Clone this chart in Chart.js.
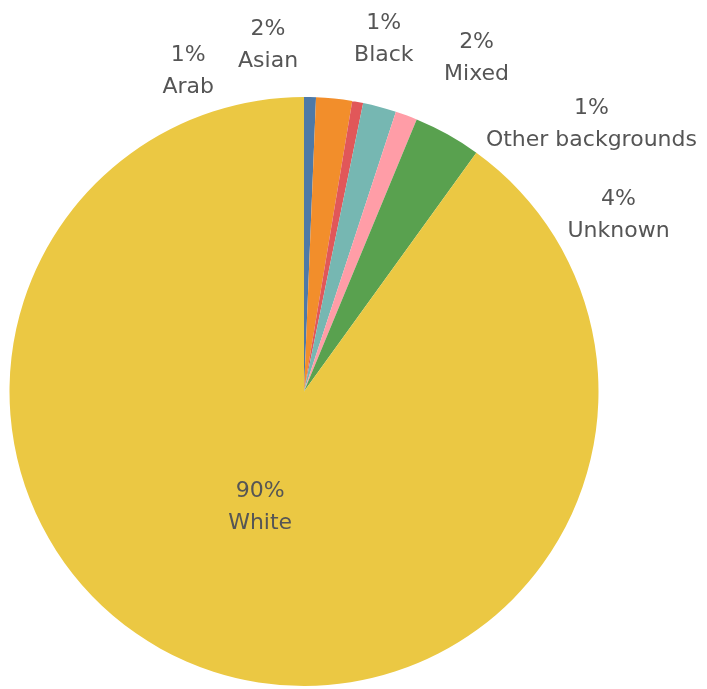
<!DOCTYPE html>
<html>
<head>
<meta charset="utf-8">
<script src="https://cdn.jsdelivr.net/npm/chart.js@4/dist/chart.umd.min.js"></script>
<style>
  html, body { margin: 0; padding: 0; background: #ffffff; }
  #wrap { width: 707px; height: 689px; position: relative; }
</style>
</head>
<body>
<div id="wrap"><canvas id="c" width="707" height="689"></canvas></div>
<script>
// Data
const categories = ["Arab", "Asian", "Black", "Mixed", "Other backgrounds", "Unknown", "White"];
const shares = [0.65, 1.97, 0.6, 1.83, 1.2, 3.7, 90.05];
const percentLabels = ["1%", "2%", "1%", "2%", "1%", "4%", "90%"];
const colors = ["#4e79a7", "#f28e2b", "#e15759", "#76b7b2", "#ff9da7", "#59a14f", "#ebc843"];

// Label anchor offsets (relative to pie centre, in units of radius)
const labelOffsets = [
  [-0.393, -1.088],
  [-0.122, -1.176],
  [0.271, -1.197],
  [0.586, -1.132],
  [0.976, -0.908],
  [1.068, -0.597],
  [-0.149, 0.393]
];

const labelPlugin = {
  id: 'tableauLabels',
  afterDatasetsDraw(chart) {
    const ctx = chart.ctx;
    const meta = chart.getDatasetMeta(0);
    if (!meta.data.length) return;
    const arc0 = meta.data[0];
    const cx = arc0.x, cy = arc0.y, r = arc0.outerRadius;
    ctx.save();
    ctx.font = '22px "DejaVu Sans"';
    ctx.fillStyle = '#555555';
    ctx.textAlign = 'center';
    ctx.textBaseline = 'middle';
    const lineGap = 32;
    meta.data.forEach((arc, i) => {
      const off = labelOffsets[i];
      const x = cx + off[0] * r;
      const y = cy + off[1] * r;
      ctx.fillText(percentLabels[i], x, y - lineGap / 2);
      ctx.fillText(categories[i], x, y + lineGap / 2);
    });
    ctx.restore();
  }
};

new Chart(document.getElementById('c'), {
  type: 'pie',
  data: {
    labels: categories,
    datasets: [{
      data: shares,
      backgroundColor: colors,
      borderWidth: 0
    }]
  },
  options: {
    responsive: false,
    animation: false,
    layout: { padding: { top: 97, bottom: 3, left: 0, right: 99 } },
    plugins: {
      legend: { display: false },
      tooltip: { enabled: false }
    }
  },
  plugins: [labelPlugin]
});
</script>
</body>
</html>
